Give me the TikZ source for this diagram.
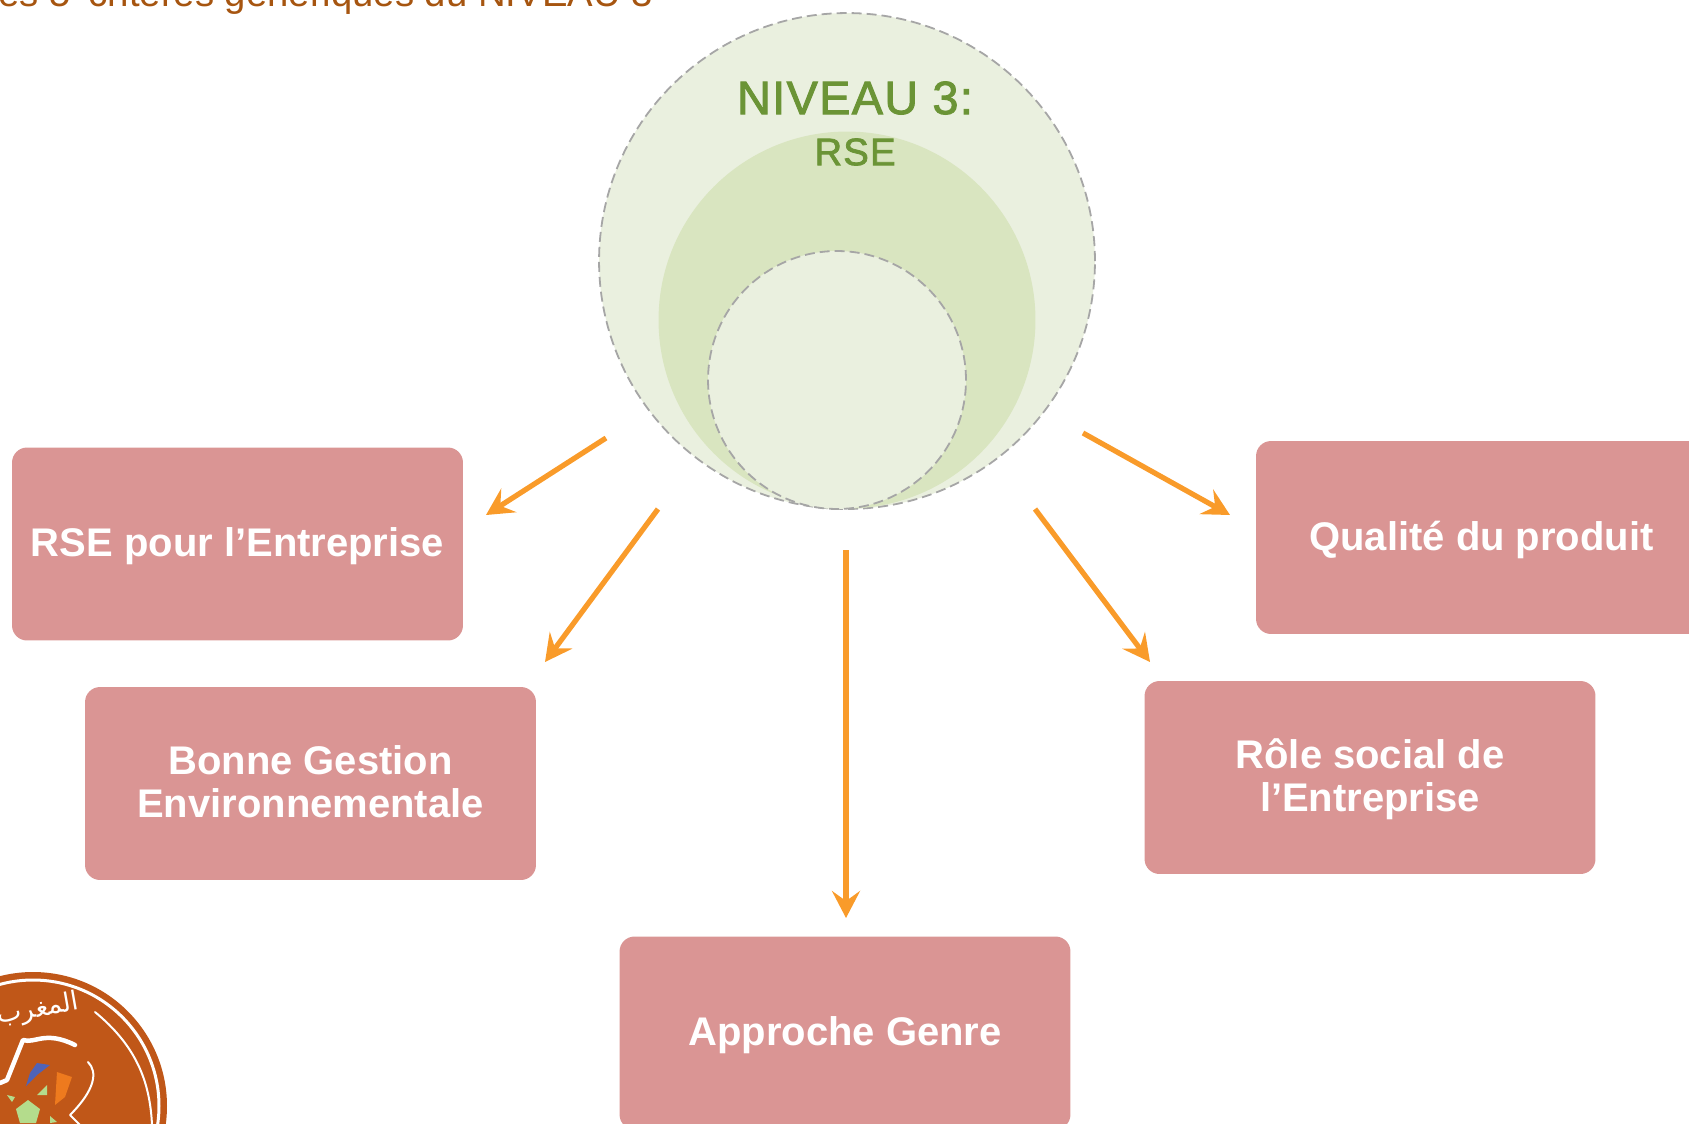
\documentclass[tikz,border=0pt]{standalone}
\usepackage{fontspec}
\usepackage{xcolor}
\usetikzlibrary{arrows, arrows.meta}
\usetikzlibrary{positioning}
\setmainfont{Liberation Sans}
\newfontfamily\arabicfont[Script=Arabic]{DejaVu Sans}
\newfontfamily\bevelfont[FakeBold=2, LetterSpace=3]{Liberation Sans}
\TeXXeTstate=1
\definecolor{critpink}{HTML}{DA9594}
\definecolor{critarrow}{HTML}{F99B2A}
\definecolor{niveaugreen}{HTML}{6B9436}
\definecolor{ringlight}{HTML}{EAF0DF}
\definecolor{ringmid}{HTML}{D9E5C0}
\definecolor{ringline}{HTML}{A6A6A6}
\definecolor{titlebrown}{HTML}{A65510}
\definecolor{logobrown}{HTML}{C05718}
\definecolor{logogreen}{HTML}{B4DC8C}
\definecolor{logoblue}{HTML}{4F63B8}
\definecolor{logoorange}{HTML}{EE7A1E}
\tikzset{
  critbox/.style={draw=none, fill=critpink, rounded corners=0.3cm, minimum width=9.02cm, minimum height=3.86cm,
    align=center, text=white, text height=19.4pt, font=\fontsize{22.75}{24.6}\selectfont\bfseries},
  critarrowline/.style={line width=0.105cm, critarrow, -{Stealth[length=0.54cm, width=0.56cm, inset=0.2cm]}},
  dashring/.style={circle, draw=ringline, line width=0.036cm, dash pattern=on 0.2cm off 0.1cm, fill=ringlight, inner sep=0pt},
  logoline/.style={draw=white, line cap=round, line join=round}
}
\begin{document}
\begin{tikzpicture}[x=0.02cm, y=-0.02cm]
	\useasboundingbox (0,0) rectangle (1689,1123);
	\clip (0,0) rectangle (1689,1123);
	% title cut by the top edge
	\node[anchor=base west, inner sep=0pt, text=titlebrown, font=\fontsize{21.8}{24}\selectfont] (title) at (-23,6) {Les 5\hspace{4pt} critères génériques du NIVEAU 3};
	
	% draw circles
	\node[dashring, minimum size=9.92cm] (outer) at (847,261) {};
	\node[circle, fill=ringmid, inner sep=0pt, minimum size=7.54cm] (middle) at (847,320) {};
	\node[dashring, minimum size=5.16cm] (inner) at (837,380) {};
	\node[text=niveaugreen, inner sep=0pt, font=\bevelfont\fontsize{26.6}{28}\selectfont] (niveau) at (855,98) {NIVEAU 3:};
	\node[text=niveaugreen, inner sep=0pt, font=\bevelfont\fontsize{21.8}{24}\selectfont] (rse) at (855,152) {RSE};
	
	% draw boxes
	\node[critbox] (entreprise) at (237.5,544) {RSE pour l’Entreprise};
	\node[critbox, text height=41pt, text depth=2.2pt] (gestion) at (310.5,783.5) {Bonne Gestion\\Environnementale};
	\node[critbox] (genre) at (845,1033) {Approche Genre};
	\node[critbox, text height=43.8pt] (social) at (1370,777.5) {Rôle social de\\l’Entreprise};
	\node[critbox] (qualite) at (1481.5,537.5) {Qualité du produit};
	
	% add arrows
	\coordinate (a1) at (606,438);
	\coordinate (b1) at (486,515);
	\coordinate (a2) at (658,509);
	\coordinate (b2) at (545,662);
	\coordinate (a3) at (846,550);
	\coordinate (b3) at (846,918);
	\coordinate (a4) at (1083,433);
	\coordinate (b4) at (1230,515);
	\coordinate (a5) at (1035,509);
	\coordinate (b5) at (1150,662);
	\foreach \i in {1,...,5}
		\draw[critarrowline] (a\i) -- (b\i);
	
	% logo in the corner
	\fill[logobrown] (33,1106) circle (134);
	\draw[logoline, line width=0.06cm] (33,1106) circle (126);
	\draw[logoline, line width=0.04cm] (95,1012) .. controls (135,1045) and (150,1080) .. (152,1125);
	\draw[logoline, line width=0.09cm] (0,1083) -- (7,1080) -- (23,1040) .. controls (35,1044) and (45,1030) .. (75,1045);
	\draw[logoline, line width=0.04cm] (88,1062) .. controls (98,1072) and (95,1090) .. (70,1115) -- (80,1125);
	\fill[logoblue] (50,1065) -- (37,1063) -- (30,1073) -- (26,1086) -- (37,1075) -- cycle;
	\fill[logoorange] (57,1072) -- (72,1077) -- (65,1097) -- (55,1105) -- cycle;
	\fill[logogreen] (28,1100) -- (40,1109) -- (36,1123) -- (20,1123) -- (16,1109) -- cycle;
	\fill[logogreen] (47,1085) -- (37,1095) -- (47,1095) -- cycle;
	\fill[logogreen] (7,1095) -- (15,1097) -- (12,1102) -- cycle;
	\fill[logogreen] (50,1116) -- (57,1122) -- (50,1123) -- cycle;
	\node[text=white, inner sep=0pt, rotate=10, font=\arabicfont\fontsize{15}{16}\selectfont] (arabe) at (38,1010) {\beginR المغرب\endR};
\end{tikzpicture}
\end{document}
